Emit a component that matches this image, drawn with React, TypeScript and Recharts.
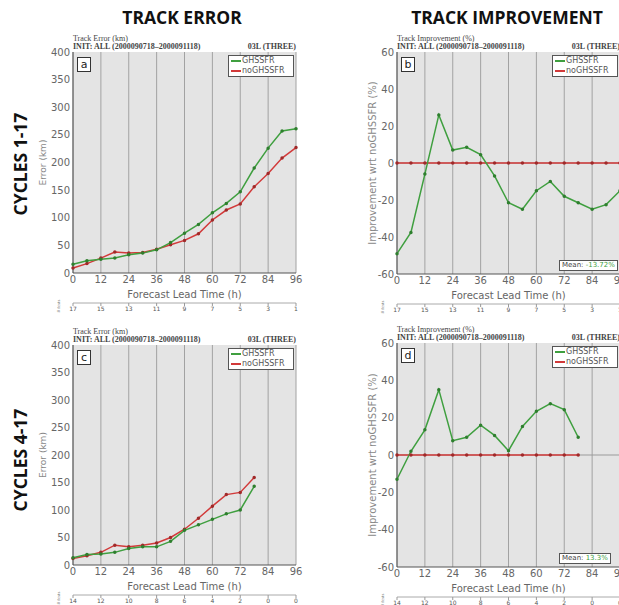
import React from 'react'
import { LineChart, Line, XAxis, YAxis, CartesianGrid, ReferenceLine } from 'recharts'

// forecast lead times (h) and the tick positions along the x axis
const hours = [0, 6, 12, 18, 24, 30, 36, 42, 48, 54, 60, 66, 72, 78, 84, 90, 96]
const hourTicks = [0, 12, 24, 36, 48, 60, 72, 84, 96]

const seriesNames = ['GHSSFR', 'noGHSSFR']

// cycles 1-17
const errGhssfr1 = [16, 22, 25, 27, 33, 36, 42, 55, 72, 88, 109, 126, 147, 190, 226, 257, 261]
const errNoGhssfr1 = [9, 17, 27, 38, 36, 37, 43, 51, 59, 71, 96, 114, 125, 156, 180, 208, 227]
const impGhssfr1 = [-49, -37.5, -6, 26, 7, 8.5, 4.5, -7, -21.5, -25, -15, -10, -18, -21.5, -25, -22.5, -15]
const impNoGhssfr1 = [0, 0, 0, 0, 0, 0, 0, 0, 0, 0, 0, 0, 0, 0, 0, 0, 0]
const fcsts1 = [17, 15, 13, 11, 9, 7, 5, 3, 1]
const mean1 = '-13.72%'

// cycles 4-17
const errGhssfr2 = [13, 19, 20, 23, 30, 33, 33, 43, 63, 73, 83, 93, 100, 143]
const errNoGhssfr2 = [12, 17, 23, 36, 33, 36, 40, 50, 65, 85, 107, 128, 132, 159]
const impGhssfr2 = [-13, 2, 13.5, 35, 7.7, 9.5, 16, 10.5, 2.3, 15.3, 23.4, 27.5, 24.3, 9.5]
const impNoGhssfr2 = [0, 0, 0, 0, 0, 0, 0, 0, 0, 0, 0, 0, 0, 0]
const fcsts2 = [14, 12, 10, 8, 6, 4, 2, 0, 0]
const mean2 = '13.3%'

const errTicks = [0, 50, 100, 150, 200, 250, 300, 350, 400]
const impTicks = [-60, -40, -20, 0, 20, 40, 60]

const GREEN = '#3f9f3f'
const RED = '#d23a3a'
const SANS = '"DejaVu Sans", sans-serif'
const SERIF = '"Liberation Serif", serif'

const rows = (g: number[], r: number[]) =>
  hours.slice(0, g.length).map((h, i) => ({ h, g: g[i], r: r[i] }))

interface PanelProps {
  left: number
  top: number
  width: number
  height: number
  yWidth: number
  right: number
  letter: string
  heading: string
  g: number[]
  r: number[]
  fcsts: number[]
  domain: [number, number]
  yTicks: number[]
  yLabel: string
  yLabelX: number
  mean?: string
}

function Panel(p: PanelProps) {
  const marginTop = 22
  const axisH = 30
  const countH = 20
  const plotLeft = p.left + p.yWidth
  const plotTop = p.top + marginTop
  const plotRight = p.left + p.width - p.right
  const plotBottom = p.top + p.height - axisH - countH
  const data = rows(p.g, p.r)

  // rotated y axis title, centred on the plot height
  const yTitle = ({ viewBox }: any) => {
    const cx = viewBox.x + p.yLabelX
    const cy = viewBox.y + viewBox.height / 2
    return (
      <text x={cx} y={cy} transform={`rotate(-90 ${cx} ${cy})`} textAnchor="middle"
        dominantBaseline="central" fontSize={p.mean ? 10 : 9} fill="#888" fontFamily={SANS}>
        {p.yLabel}
      </text>
    )
  }

  // forecast counts drawn under each lead-time tick
  const countTick = ({ x, y, payload }: any) => (
    <text x={x} y={y + 3} textAnchor="middle" fontSize={6} fill="#555" fontFamily={SANS}>
      {p.fcsts[Math.round(payload.value / 12)]}
    </text>
  )

  return (
    <>
      <div style={{ position: 'absolute', left: p.left, top: p.top }}>
        <LineChart width={p.width} height={p.height} data={data}
          margin={{ top: marginTop, right: p.right, left: 0, bottom: 0 }}>
          <CartesianGrid xAxisId="lead" yAxisId="v" horizontal={false} fill="#e4e4e4" stroke="#a2a2a2" />
          <XAxis xAxisId="lead" dataKey="h" type="number" domain={[0, 96]} ticks={hourTicks} interval={0}
            height={axisH} tickLine={false} tickSize={0} axisLine={{ stroke: '#555' }} tickMargin={3}
            tick={{ fontSize: 10, fill: '#666', fontFamily: SANS }}
            label={{ value: 'Forecast Lead Time (h)', position: 'insideBottom', offset: 5, fontSize: 10, fill: '#666', fontFamily: SANS }} />
          {/* number of forecasts verifying at each lead time */}
          <XAxis xAxisId="num" dataKey="h" type="number" domain={[0, 96]} ticks={hourTicks} interval={0}
            allowDataOverflow height={countH} tickSize={3} axisLine={{ stroke: '#aaa' }} tickLine={{ stroke: '#999' }}
            tick={countTick} />
          <XAxis xAxisId="top" dataKey="h" orientation="top" type="number" domain={[0, 96]} allowDataOverflow
            height={0} tick={false} tickLine={false} axisLine={{ stroke: '#555' }} />
          <YAxis yAxisId="v" type="number" domain={p.domain} ticks={p.yTicks} interval={0}
            width={p.yWidth} tickLine={false} tickSize={0} axisLine={{ stroke: '#555' }} tickMargin={3}
            tick={{ fontSize: 10, fill: '#666', fontFamily: SANS }} label={{ content: yTitle }} />
          <YAxis yAxisId="w" orientation="right" type="number" domain={p.domain} allowDataOverflow
            width={0} tick={false} tickLine={false} axisLine={{ stroke: '#555' }} />
          {p.mean && <ReferenceLine xAxisId="lead" yAxisId="v" y={0} stroke="#9a9a9a" />}
          <Line xAxisId="lead" yAxisId="v" dataKey="r" name={seriesNames[1]} stroke={RED} strokeWidth={1.5}
            dot={{ r: 1, fill: '#a02a2a', stroke: '#a02a2a' }} isAnimationActive={false} />
          <Line xAxisId="lead" yAxisId="v" dataKey="g" name={seriesNames[0]} stroke={GREEN} strokeWidth={1.5}
            dot={{ r: 1, fill: '#2f7f2f', stroke: '#2f7f2f' }} isAnimationActive={false} />
        </LineChart>
      </div>

      {/* run header above the plot */}
      <div style={{ position: 'absolute', left: plotLeft, top: plotTop - 17, width: plotRight - plotLeft,
        fontFamily: SERIF, fontSize: 8, lineHeight: '8px', color: '#444' }}>
        <div>{p.heading}</div>
        <div style={{ display: 'flex', justifyContent: 'space-between', fontWeight: 'bold' }}>
          <span>INIT: ALL (2000090718–2000091118)</span>
          <span>03L (THREE)</span>
        </div>
      </div>

      {/* panel letter */}
      <div style={{ position: 'absolute', left: plotLeft + 4, top: plotTop + 5, width: 12, height: 13,
        border: '1px solid #333', background: '#fff', fontFamily: SANS, fontSize: 11,
        lineHeight: '13px', textAlign: 'center', color: '#222' }}>{p.letter}</div>

      {/* legend */}
      <div style={{ position: 'absolute', left: plotRight - 68, top: plotTop + 3, width: 64, height: 20,
        border: '1px solid #555', background: '#fff', fontFamily: SANS, fontSize: 8, lineHeight: '10px', color: '#555' }}>
        {seriesNames.map((n, i) => (
          <div key={n} style={{ display: 'flex', alignItems: 'center', paddingLeft: 2 }}>
            <span style={{ display: 'inline-block', width: 10, height: 2, background: i === 0 ? GREEN : RED, marginRight: 1 }} />
            {n}
          </div>
        ))}
      </div>

      {/* mean improvement */}
      {p.mean && (
        <div style={{ position: 'absolute', left: plotRight - 61, top: plotBottom - 14, padding: '0 2px',
          border: '1px solid #555', background: '#fff', fontFamily: SANS, fontSize: 7, lineHeight: '9px', color: '#444',
          whiteSpace: 'nowrap' }}>
          Mean: <span style={{ color: GREEN }}>{p.mean}</span>
        </div>
      )}

      {/* count axis title */}
      <div style={{ position: 'absolute', left: plotLeft - 15, top: plotBottom + 33, fontFamily: SERIF, fontSize: 5,
        color: '#666', transform: 'translate(-50%, -50%) rotate(-90deg)', whiteSpace: 'nowrap' }}># fcsts</div>
    </>
  )
}

const bigTitle: React.CSSProperties = {
  position: 'absolute', fontFamily: '"Open Sans", sans-serif', fontWeight: 'bold', fontSize: 17.5,
  color: '#111', whiteSpace: 'nowrap', transform: 'translate(-50%, -50%)',
}

export default function App() {
  return (
    <div style={{ position: 'absolute', left: 0, top: 0, width: 619, height: 605, overflow: 'hidden', background: '#fff' }}>
      <div style={{ ...bigTitle, left: 182, top: 17 }}>TRACK ERROR</div>
      <div style={{ ...bigTitle, left: 507, top: 17 }}>TRACK IMPROVEMENT</div>
      <div style={{ ...bigTitle, left: 20, top: 164, transform: 'translate(-50%, -50%) rotate(-90deg)' }}>CYCLES 1-17</div>
      <div style={{ ...bigTitle, left: 20, top: 460, transform: 'translate(-50%, -50%) rotate(-90deg)' }}>CYCLES 4-17</div>

      <Panel left={30} top={30} width={290} height={293} yWidth={43} right={24} letter="a"
        heading="Track Error (km)" g={errGhssfr1} r={errNoGhssfr1} fcsts={fcsts1}
        domain={[0, 400]} yTicks={errTicks} yLabel="Error (km)" yLabelX={13} />
      <Panel left={320} top={30} width={300} height={294} yWidth={77} right={0} letter="b"
        heading="Track Improvement (%)" g={impGhssfr1} r={impNoGhssfr1} fcsts={fcsts1}
        domain={[-60, 60]} yTicks={impTicks} yLabel="Improvement wrt noGHSSFR (%)" yLabelX={52} mean={mean1} />
      <Panel left={30} top={323} width={290} height={292} yWidth={43} right={24} letter="c"
        heading="Track Error (km)" g={errGhssfr2} r={errNoGhssfr2} fcsts={fcsts2}
        domain={[0, 400]} yTicks={errTicks} yLabel="Error (km)" yLabelX={13} />
      <Panel left={320} top={321} width={300} height={296} yWidth={77} right={0} letter="d"
        heading="Track Improvement (%)" g={impGhssfr2} r={impNoGhssfr2} fcsts={fcsts2}
        domain={[-60, 60]} yTicks={impTicks} yLabel="Improvement wrt noGHSSFR (%)" yLabelX={52} mean={mean2} />
    </div>
  )
}
